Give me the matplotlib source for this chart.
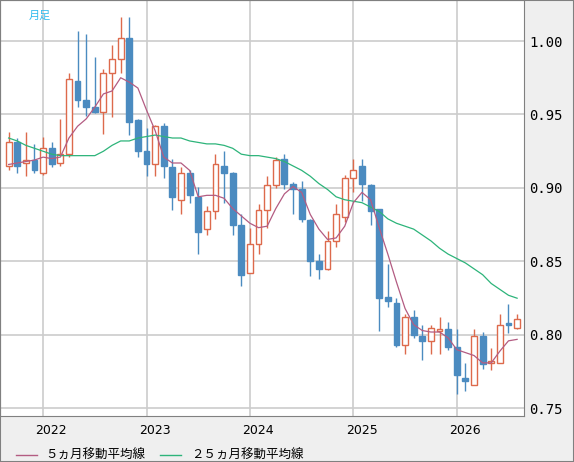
import numpy as np
import matplotlib.pyplot as plt

# monthly candles, Sep 2021 .. Aug 2026
opens = [0.915, 0.931, 0.917, 0.919, 0.910, 0.927, 0.917, 0.923, 0.973, 0.960,
         0.955, 0.952, 0.978, 0.988, 1.002, 0.946, 0.925, 0.916, 0.942, 0.914,
         0.892, 0.910, 0.894, 0.872, 0.884, 0.915, 0.910, 0.875, 0.842, 0.862,
         0.885, 0.902, 0.920, 0.903, 0.899, 0.878, 0.850, 0.845, 0.864, 0.880,
         0.907, 0.915, 0.902, 0.886, 0.826, 0.822, 0.793, 0.812, 0.799, 0.796,
         0.803, 0.804, 0.792, 0.771, 0.766, 0.799, 0.781, 0.781, 0.808, 0.805]
closes = [0.931, 0.915, 0.919, 0.912, 0.927, 0.916, 0.923, 0.974, 0.960, 0.955,
          0.952, 0.978, 0.988, 1.002, 0.945, 0.925, 0.916, 0.942, 0.915, 0.894,
          0.910, 0.895, 0.870, 0.884, 0.916, 0.910, 0.875, 0.841, 0.862, 0.885,
          0.902, 0.919, 0.903, 0.899, 0.879, 0.850, 0.845, 0.864, 0.882, 0.907,
          0.912, 0.903, 0.884, 0.825, 0.823, 0.793, 0.812, 0.800, 0.796, 0.805,
          0.804, 0.792, 0.773, 0.769, 0.799, 0.780, 0.782, 0.807, 0.807, 0.811]
highs = [0.938, 0.934, 0.938, 0.930, 0.935, 0.931, 0.947, 0.978, 1.007, 1.005,
         0.989, 0.981, 0.997, 1.016, 1.016, 0.947, 0.941, 0.943, 0.944, 0.920,
         0.914, 0.912, 0.901, 0.888, 0.923, 0.925, 0.911, 0.882, 0.873, 0.889,
         0.908, 0.921, 0.923, 0.904, 0.905, 0.879, 0.855, 0.871, 0.889, 0.909,
         0.920, 0.920, 0.903, 0.886, 0.848, 0.825, 0.814, 0.817, 0.807, 0.807,
         0.812, 0.809, 0.804, 0.781, 0.804, 0.802, 0.791, 0.814, 0.821, 0.814]
lows = [0.912, 0.910, 0.908, 0.910, 0.909, 0.914, 0.915, 0.921, 0.955, 0.949,
        0.951, 0.937, 0.948, 0.978, 0.936, 0.921, 0.908, 0.908, 0.907, 0.885,
        0.882, 0.890, 0.855, 0.868, 0.879, 0.890, 0.868, 0.833, 0.842, 0.855,
        0.873, 0.900, 0.899, 0.882, 0.877, 0.840, 0.838, 0.844, 0.860, 0.877,
        0.897, 0.891, 0.875, 0.803, 0.819, 0.792, 0.787, 0.798, 0.783, 0.787,
        0.787, 0.790, 0.760, 0.762, 0.766, 0.777, 0.776, 0.781, 0.801, 0.804]
ma5 = [0.916, 0.917, 0.918, 0.919, 0.921, 0.920, 0.921, 0.934, 0.942, 0.947,
       0.955, 0.964, 0.966, 0.975, 0.972, 0.968, 0.953, 0.939, 0.921, 0.917,
       0.917, 0.912, 0.894, 0.895, 0.895, 0.893, 0.886, 0.881, 0.876, 0.873,
       0.874, 0.886, 0.896, 0.901, 0.897, 0.882, 0.872, 0.865, 0.866, 0.874,
       0.890, 0.897, 0.892, 0.873, 0.855, 0.836, 0.818, 0.807, 0.803, 0.802,
       0.802, 0.798, 0.790, 0.788, 0.786, 0.781, 0.781, 0.789, 0.796, 0.797]
ma25 = [0.934, 0.932, 0.929, 0.927, 0.925, 0.923, 0.922, 0.922, 0.922, 0.922,
        0.922, 0.925, 0.929, 0.932, 0.932, 0.934, 0.935, 0.936, 0.935, 0.934,
        0.934, 0.932, 0.931, 0.930, 0.930, 0.929, 0.927, 0.923, 0.922, 0.922,
        0.921, 0.920, 0.918, 0.915, 0.912, 0.908, 0.903, 0.899, 0.894, 0.892,
        0.891, 0.890, 0.887, 0.884, 0.879, 0.876, 0.874, 0.872, 0.868, 0.864,
        0.859, 0.855, 0.852, 0.849, 0.845, 0.841, 0.835, 0.831, 0.827, 0.825]
years = ["2022", "2023", "2024", "2025", "2026"]
year_idx = [4, 16, 28, 40, 52]
yticks = [0.75, 0.80, 0.85, 0.90, 0.95, 1.00]

UP = "#dd6a4c"
DOWN = "#4b8bc0"
GRID = "#cccccc"

plt.rcParams["font.family"] = ["Noto Sans CJK JP", "DejaVu Sans"]
fig = plt.figure(figsize=(5.74, 4.62), dpi=100, facecolor="#efefef")
ax = fig.add_axes([0.0, (462 - 415.5) / 462, 524 / 574, 415.5 / 462])
ax.set_facecolor("white")

x = np.arange(len(opens))
o = np.array(opens); c = np.array(closes)
up = c >= o
ax.vlines(x[up], lows_arr := np.array(lows)[up], np.array(highs)[up], color=UP, lw=1, zorder=3)
ax.vlines(x[~up], np.array(lows)[~up], np.array(highs)[~up], color=DOWN, lw=1, zorder=3)
lo_b = np.minimum(o, c); hi_b = np.maximum(o, c)
h = np.maximum(hi_b - lo_b, 0.0008)
ax.bar(x[up], h[up], bottom=lo_b[up], width=0.68, facecolor="white", edgecolor=UP, lw=1, zorder=4)
ax.bar(x[~up], h[~up], bottom=lo_b[~up], width=0.68, facecolor=DOWN, edgecolor=DOWN, lw=1, zorder=4)

ax.plot(x, ma25, color="#2db47a", lw=0.9, zorder=5)
ax.plot(x, ma5, color="#b35c82", lw=0.9, zorder=5)

ax.set_xlim(-1, 59.8)
ax.set_ylim(0.7452, 1.0279)
ax.set_xticks(year_idx)
ax.set_xticklabels([])
ax.tick_params(axis="x", length=0)
ax.set_yticks(yticks)
ax.yaxis.tick_right()
ax.tick_params(axis="y", length=0, pad=4)
ax.set_yticklabels([f"{v:.2f}" for v in yticks], family="DejaVu Sans Mono", fontsize=10)
ax.grid(True, color=GRID, lw=1.2, zorder=0)
for s in ax.spines.values():
    s.set_color("#808080")

for xi, yr in zip(year_idx, years):
    ax.text(xi + 0.95, -0.035, yr, transform=ax.get_xaxis_transform(),
            ha="center", va="center", fontsize=9, family="DejaVu Sans")

ax.text(0.055, 0.975, "月足", transform=ax.transAxes, color="#33bbee",
        fontsize=8, ha="left", va="top")

# legend
fig.lines.append(plt.Line2D([16 / 574, 37 / 574], [1 - 455 / 462] * 2, color="#b35c82", lw=1, transform=fig.transFigure))
fig.text(45 / 574, 1 - 455 / 462, "５ヵ月移動平均線", fontsize=9, va="center")
fig.lines.append(plt.Line2D([160 / 574, 181 / 574], [1 - 455 / 462] * 2, color="#2db47a", lw=1, transform=fig.transFigure))
fig.text(191 / 574, 1 - 455 / 462, "２５ヵ月移動平均線", fontsize=9, va="center")

fig.patches.append(plt.Rectangle((0, 0), 1, 1, transform=fig.transFigure, fill=False,
                                 edgecolor="#808080", lw=1.5))
fig.savefig("out.png", dpi=100, facecolor=fig.get_facecolor())
